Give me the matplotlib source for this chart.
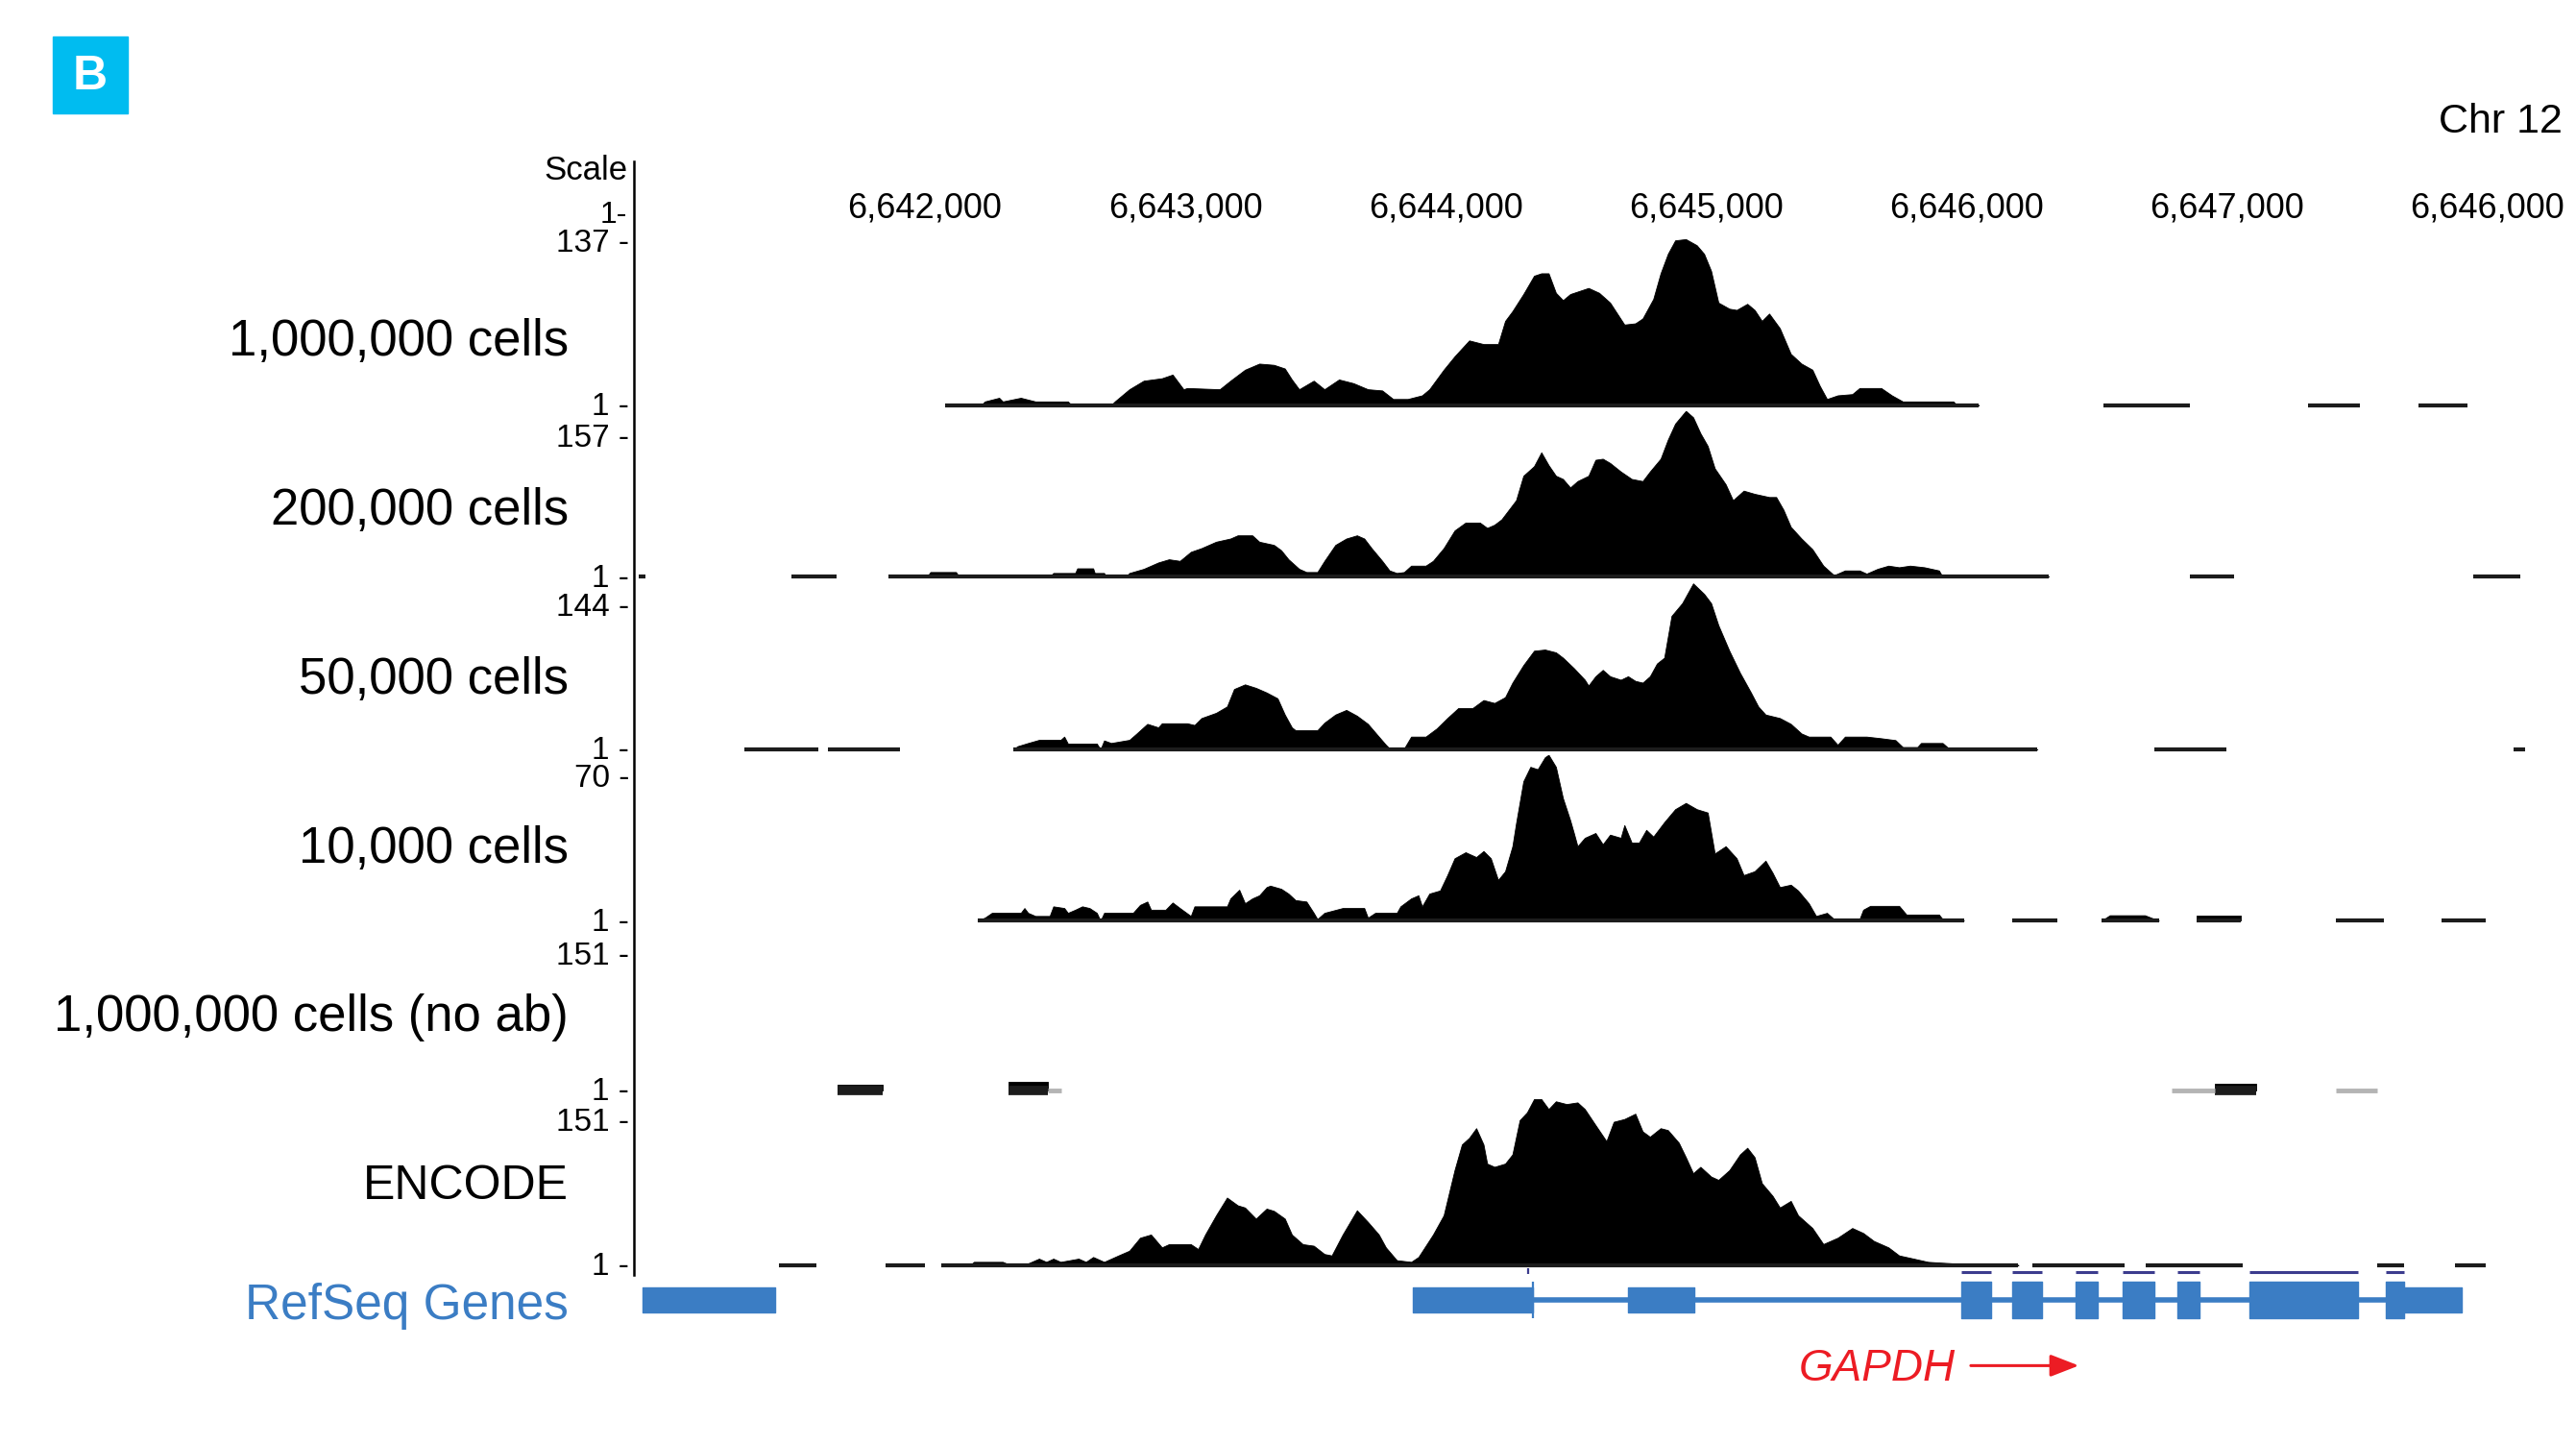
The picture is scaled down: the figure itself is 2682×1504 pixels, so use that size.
import numpy as np
import matplotlib
matplotlib.use("Agg")
import matplotlib.pyplot as plt
from matplotlib.patches import Rectangle, FancyArrowPatch
from matplotlib.lines import Line2D

plt.rcParams['font.family'] = ['Liberation Sans', 'DejaVu Sans']

GAP = np.nan

# genome axis
TICK_POS = [6642000, 6643000, 6644000, 6645000, 6646000, 6647000, 6648000]
TICK_LABELS = ["6,642,000", "6,643,000", "6,644,000", "6,645,000",
               "6,646,000", "6,647,000", "6,646,000"]
XLIM = (6640896, 6648290)

TRACK_NAMES = ["1,000,000 cells", "200,000 cells", "50,000 cells",
               "10,000 cells", "1,000,000 cells (no ab)", "ENCODE"]
TRACK_MAX = [137, 157, 144, 70, 151, 151]

# 1,000,000 cells
T1_POS = [6642077, 6642216, 6642230, 6642285, 6642299, 6642368, 6642424, 6642549, 6642563, 6642715,
          6642729, 6642785, 6642840, 6642910, 6642951, 6642993, 6643007, 6643132, 6643173, 6643229,
          6643284, 6643340, 6643382, 6643409, 6643437, 6643493, 6643534, 6643590, 6643645, 6643701,
          6643756, 6643798, 6643854, 6643909, 6643937, 6643992, 6644034, 6644090, 6644145, 6644201,
          6644228, 6644256, 6644298, 6644339, 6644367, 6644395, 6644423, 6644450, 6644478, 6644548,
          6644589, 6644631, 6644686, 6644728, 6644756, 6644797, 6644825, 6644853, 6644881, 6644922,
          6644964, 6644992, 6645019, 6645047, 6645089, 6645117, 6645158, 6645186, 6645214, 6645242,
          6645283, 6645325, 6645366, 6645408, 6645436, 6645464, 6645505, 6645561, 6645589, 6645672,
          6645713, 6645755, 6645949, 6645963, 6646047]
T1_VAL = [1, 1, 4, 7, 4, 7, 4, 4, 1, 1,
          4, 14, 21, 23, 26, 14, 15, 14, 21, 30,
          35, 34, 31, 22, 14, 21, 14, 22, 19, 14,
          13, 6, 6, 9, 14, 30, 41, 54, 51, 51,
          70, 78, 92, 107, 109, 109, 93, 87, 92, 97,
          93, 85, 67, 68, 72, 88, 109, 125, 136, 137,
          132, 125, 111, 85, 80, 79, 84, 79, 70, 76,
          64, 43, 35, 30, 17, 6, 9, 10, 15, 15,
          9, 4, 4, 1, 1]
T1_FLAT = [(6646524, 6646859), (6647313, 6647509), (6647736, 6647925)]

# 200,000 cells
T2_POS = [6641861, 6642008, 6642021, 6642119, 6642132, 6642479, 6642493, 6642577, 6642585, 6642646,
          6642652, 6642688, 6642696, 6642771, 6642785, 6642840, 6642896, 6642937, 6642979, 6643021,
          6643062, 6643118, 6643173, 6643201, 6643257, 6643284, 6643340, 6643368, 6643396, 6643437,
          6643465, 6643507, 6643534, 6643576, 6643618, 6643659, 6643687, 6643715, 6643756, 6643784,
          6643812, 6643840, 6643867, 6643923, 6643951, 6643992, 6644034, 6644076, 6644131, 6644159,
          6644187, 6644214, 6644242, 6644270, 6644298, 6644339, 6644367, 6644395, 6644423, 6644450,
          6644478, 6644506, 6644548, 6644575, 6644603, 6644631, 6644672, 6644714, 6644756, 6644784,
          6644825, 6644853, 6644881, 6644922, 6644950, 6644978, 6645006, 6645033, 6645075, 6645103,
          6645144, 6645186, 6645242, 6645269, 6645297, 6645325, 6645366, 6645408, 6645450, 6645491,
          6645533, 6645589, 6645616, 6645658, 6645700, 6645741, 6645783, 6645838, 6645894, 6645908,
          6646316]
T2_VAL = [1, 1, 5.5, 5.5, 1, 1, 4.6, 4.6, 9, 9,
          4.6, 4.6, 1, 1, 4.6, 8.5, 14.5, 17.5, 16, 24.5,
          28, 34, 37, 40, 40, 34, 31, 26, 17.5, 8.5,
          5.5, 5.5, 16, 31, 37, 40, 37, 28, 16, 7,
          4.6, 5.5, 11.5, 11.5, 16, 28, 44.6, 52, 52, 47,
          50, 55, 64, 73, 96, 105, 118, 106, 96, 93,
          85, 91, 96, 111, 112, 108, 100, 93, 91, 100,
          112, 130, 145, 157, 151, 136, 124, 103, 88, 73,
          82, 79, 76, 76, 64, 48, 37, 27, 11.5, 2.5,
          7, 7, 4, 8.5, 11.5, 10, 11.5, 10, 7, 1,
          1]
T2_FLAT = [(6640902, 6640927), (6641489, 6641659), (6646859, 6647029), (6647944, 6648127)]

# 50,000 cells
T3_POS = [6642341, 6642355, 6642396, 6642438, 6642521, 6642535, 6642549, 6642660, 6642674, 6642688,
          6642715, 6642785, 6642813, 6642854, 6642896, 6642910, 6643007, 6643035, 6643062, 6643118,
          6643160, 6643187, 6643229, 6643271, 6643312, 6643354, 6643382, 6643409, 6643423, 6643507,
          6643534, 6643576, 6643618, 6643659, 6643701, 6643743, 6643770, 6643784, 6643840, 6643867,
          6643923, 6643965, 6644006, 6644048, 6644103, 6644145, 6644187, 6644228, 6644256, 6644298,
          6644339, 6644381, 6644423, 6644450, 6644492, 6644534, 6644548, 6644575, 6644603, 6644631,
          6644672, 6644700, 6644728, 6644756, 6644784, 6644811, 6644839, 6644867, 6644908, 6644950,
          6644992, 6645019, 6645047, 6645089, 6645130, 6645172, 6645200, 6645228, 6645283, 6645325,
          6645366, 6645394, 6645477, 6645505, 6645533, 6645616, 6645672, 6645727, 6645755, 6645811,
          6645825, 6645908, 6645936, 6646272]
T3_VAL = [1, 3.7, 6.5, 9.2, 9.2, 12, 6, 6, 1, 8.7,
          6.5, 9.2, 14.7, 23, 20, 23.5, 23.5, 22, 28, 32.5,
          38, 53, 57, 54, 50, 45, 31, 20, 17.5, 17.5,
          24, 31, 35, 30, 23, 12, 5, 1.8, 1.8, 12,
          12, 19, 28, 36.6, 36.6, 43.5, 41, 46, 58.5, 73.6,
          86, 87, 84.6, 80, 71, 61, 56, 64, 69.5, 64,
          61, 64, 60, 58.5, 64, 75, 80, 116, 127, 144,
          135, 127, 108, 86, 67, 50, 38, 31, 28, 23,
          14.7, 12, 12, 5, 12, 12, 10.6, 9, 3, 3,
          6.5, 6.5, 1, 1]
T3_FLAT = [(6641306, 6641590), (6641628, 6641905), (6646720, 6646997), (6648102, 6648146)]

# 10,000 cells
T4_POS = [6642202, 6642230, 6642257, 6642368, 6642382, 6642396, 6642424, 6642479, 6642493, 6642535,
          6642549, 6642577, 6642604, 6642632, 6642660, 6642674, 6642688, 6642799, 6642826, 6642854,
          6642868, 6642924, 6642951, 6642979, 6643021, 6643035, 6643160, 6643173, 6643207, 6643229,
          6643257, 6643284, 6643312, 6643326, 6643368, 6643396, 6643423, 6643465, 6643493, 6643507,
          6643534, 6643604, 6643687, 6643701, 6643729, 6643812, 6643826, 6643867, 6643895, 6643909,
          6643937, 6643978, 6644006, 6644034, 6644076, 6644117, 6644145, 6644173, 6644201, 6644228,
          6644256, 6644270, 6644298, 6644325, 6644353, 6644381, 6644395, 6644423, 6644450, 6644478,
          6644492, 6644506, 6644534, 6644575, 6644603, 6644631, 6644672, 6644686, 6644714, 6644742,
          6644770, 6644797, 6644839, 6644881, 6644922, 6644964, 6645006, 6645033, 6645075, 6645117,
          6645144, 6645186, 6645228, 6645255, 6645283, 6645325, 6645353, 6645394, 6645422, 6645464,
          6645491, 6645589, 6645603, 6645630, 6645741, 6645769, 6645894, 6645908, 6645991,
          GAP, 6646518, 6646550, 6646685, 6646739, GAP, 6646884, 6647054]
T4_VAL = [1, 2.3, 4.3, 4.3, 6.3, 4.3, 3, 3, 7, 6.3,
          4.3, 5.6, 7, 6.3, 4.3, 1, 4.3, 4.3, 7.6, 9,
          5.6, 5.6, 8.6, 6.3, 3, 7, 7, 10.3, 13.9, 8.3,
          10.3, 11.6, 15, 15.6, 14.3, 12.3, 9.6, 9, 4.3, 1.7,
          4.3, 6.3, 6.3, 2.3, 4.3, 4.3, 7, 10.3, 11.6, 7,
          12.3, 13.6, 20, 27, 29.5, 27.5, 30, 27, 18, 21.6,
          32, 41.5, 59, 65, 64, 69, 70, 65, 52, 42.8,
          37.5, 32, 35.5, 37.5, 32.8, 36.8, 35.5, 40.8, 33.5, 33.5,
          38.8, 36, 42, 47.4, 50, 47.4, 46, 29, 32, 27,
          20, 21.6, 26, 21, 15, 16, 13.6, 8.3, 3, 4.3,
          1.7, 1.7, 5.6, 7.2, 7.2, 3.6, 3.6, 1.7, 1,
          GAP, 1, 3.3, 3.3, 1, GAP, 3.3, 3.3]
T4_FLAT = [(6646177, 6646348), (6647420, 6647603), (6647824, 6647995)]

# 1,000,000 cells, no antibody
T5_POS = [6641666, 6641836, GAP, 6642322, 6642473, GAP, 6646953, 6647111]
T5_VAL = [6, 6, GAP, 9, 9, GAP, 7, 7]
T5_FAINT = [(6642473, 6642524), (6646789, 6646953), (6647420, 6647578)]

# ENCODE
T6_POS = [6642063, 6642174, 6642188, 6642299, 6642327, 6642341, 6642396, 6642438, 6642466, 6642493,
          6642521, 6642590, 6642618, 6642646, 6642688, 6642743, 6642785, 6642826, 6642868, 6642910,
          6642937, 6643021, 6643049, 6643076, 6643118, 6643160, 6643201, 6643229, 6643271, 6643312,
          6643340, 6643382, 6643409, 6643451, 6643493, 6643534, 6643562, 6643604, 6643659, 6643701,
          6643743, 6643770, 6643812, 6643867, 6643895, 6643951, 6643992, 6644034, 6644062, 6644090,
          6644117, 6644145, 6644159, 6644187, 6644228, 6644256, 6644284, 6644312, 6644339, 6644367,
          6644395, 6644423, 6644464, 6644506, 6644534, 6644575, 6644617, 6644645, 6644686, 6644728,
          6644756, 6644784, 6644825, 6644853, 6644895, 6644922, 6644950, 6644978, 6645019, 6645047,
          6645089, 6645130, 6645158, 6645186, 6645214, 6645255, 6645283, 6645325, 6645353, 6645408,
          6645450, 6645505, 6645561, 6645603, 6645644, 6645700, 6645741, 6645797, 6645852, 6645949,
          6646005, 6646199]
T6_VAL = [1, 1, 3.9, 3.9, 1, 1, 2.5, 6.8, 3.9, 6.8,
          3.9, 6.8, 3.9, 8.3, 3.9, 9.7, 14, 25.7, 28.6, 17,
          19.9, 19.9, 15.5, 28.6, 46, 62, 55, 53, 43, 52,
          50, 43, 28.6, 19.9, 18.5, 11, 9.7, 28.6, 50.5, 40,
          28.6, 17, 5.4, 3.9, 8.3, 28.6, 46, 87, 110, 116,
          124.7, 110, 92.7, 89.8, 92.7, 101, 132, 139, 151, 151,
          142, 149, 146.5, 148, 142, 127.6, 113, 130.5, 133, 137.8,
          121.8, 117, 124.7, 123, 111.6, 98.5, 84, 89.8, 81, 78,
          86.8, 101, 107, 98.5, 75, 63.6, 53, 59, 46, 34.5,
          20, 25.7, 34.5, 30, 22.8, 17, 9.7, 6.8, 3.9, 2.5,
          1, 1]
T6_FLAT = [(6641438, 6641584), (6641849, 6642000), (6646253, 6646606),
           (6646688, 6647061), (6647578, 6647679), (6647874, 6647995)]

# RefSeq gene models
GENE_THIN = [(6640915, 6641426), (6643874, 6644335), (6644701, 6644953), (6647679, 6647900)]
GENE_THICK = [(6645981, 6646095), (6646177, 6646291), (6646417, 6646505), (6646600, 6646720),
              (6646808, 6646896), (6647086, 6647502), (6647610, 6647679)]
GENE_TSS = 6644335
GENE_END = 6647900

TRACKS = [(T1_POS, T1_VAL, T1_FLAT), (T2_POS, T2_VAL, T2_FLAT), (T3_POS, T3_VAL, T3_FLAT),
          (T4_POS, T4_VAL, T4_FLAT), (T5_POS, T5_VAL, []), (T6_POS, T6_VAL, T6_FLAT)]

# layout (reference pixel grid 1568 x 879)
W, H = 1568.0, 879.3
def fx(d):
    return d / W
def fy(d):
    return 1 - d / H

BASE_Y = [246.5, 351, 456, 560.3, 663.6, 769.8]
MAXLAB_Y = [148, 267, 370, 474, 582, 683]
NAME_Y = [208, 311, 414, 517, 619, 722]
NAME_SIZE = [38, 38, 38, 38, 38, 36]
TRACK_H = 101
BLUE = '#3b7dc4'
RED = '#ec1c24'

fig = plt.figure(figsize=(26.82, 15.04), dpi=100)


def segments(pos, val):
    out, cur = [], []
    for p, v in zip(pos, val):
        if np.isnan(p):
            out.append(cur)
            cur = []
        else:
            cur.append((p, v))
    out.append(cur)
    return [s for s in out if s]


axes = []
for i, (pos, val, flat) in enumerate(TRACKS):
    ax = fig.add_axes([fx(388), fy(BASE_Y[i]), fx(1560) - fx(388), TRACK_H / H])
    ax.set_xlim(*XLIM)
    ax.set_ylim(1, TRACK_MAX[i])
    ax.axis('off')
    base_lw = 7 if i == 4 else 3.0
    for seg in segments(pos, val):
        xs, ys = zip(*seg)
        ax.fill_between(xs, 1, ys, color='black', lw=0.6)
        ax.plot([xs[0], xs[-1]], [1, 1], color='#1c1c1c', lw=base_lw,
                solid_capstyle='butt', clip_on=False)
    for s, e in flat:
        ax.plot([s, e], [1, 1], color='#1c1c1c', lw=3.0, solid_capstyle='butt', clip_on=False)
    axes.append(ax)

for s, e in T5_FAINT:
    axes[4].plot([s, e], [1, 1], color='#b4b4b4', lw=3.5, solid_capstyle='butt', clip_on=False)

# coordinate labels above the first track
for p, lab in zip(TICK_POS, TICK_LABELS):
    axes[0].text(p, 1.185, lab, transform=axes[0].get_xaxis_transform(),
                 ha='center', va='center', fontsize=26)

# gene track
axg = fig.add_axes([fx(388), fy(812), fx(1560) - fx(388), 42 / H])
axg.set_xlim(*XLIM)
axg.set_ylim(-21, 21)
axg.axis('off')
axg.plot([GENE_TSS, GENE_END], [0, 0], color=BLUE, lw=4, solid_capstyle='butt')
axg.broken_barh([(s, e - s) for s, e in GENE_THIN], (-7.5, 15), color=BLUE)
axg.broken_barh([(s, e - s) for s, e in GENE_THICK], (-11.3, 22.6), color=BLUE)
axg.vlines(GENE_TSS, -11, 11, color=BLUE, lw=1.6)
for s, e in GENE_THICK:
    axg.plot([s, e], [17, 17], color='#3c3c8e', lw=2.2, solid_capstyle='butt')
axg.vlines(GENE_TSS - 20, 15.5, 19.5, color='#3c3c8e', lw=1.6)

# left side labels
fig.add_artist(Line2D([fx(386), fx(386)], [fy(98), fy(776)], color='black', lw=1.8))
fig.text(fx(382), fy(104), 'Scale', ha='right', va='center', fontsize=25)
fig.text(fx(382), fy(131), '1-', ha='right', va='center', fontsize=23)
for i in range(len(TRACK_NAMES)):
    fig.text(fx(383), fy(MAXLAB_Y[i]), f'{TRACK_MAX[i]} -', ha='right', va='center', fontsize=24)
    fig.text(fx(383), fy(BASE_Y[i] + 1), '1 -', ha='right', va='center', fontsize=24)
    fig.text(fx(346), fy(NAME_Y[i]), TRACK_NAMES[i], ha='right', va='center',
             fontsize=NAME_SIZE[i])
fig.text(fx(346), fy(795), 'RefSeq Genes', ha='right', va='center', fontsize=37, color=BLUE)

# gene name + direction
fig.text(fx(1095), fy(833), 'GAPDH', ha='left', va='center', fontsize=33,
         style='italic', color=RED)
fig.add_artist(FancyArrowPatch((fx(1198), fy(831)), (fx(1267), fy(831)),
                               transform=fig.transFigure, color=RED, lw=2.2,
                               arrowstyle='-|>,head_length=0.9,head_width=0.35',
                               mutation_scale=20))

# panel letter and chromosome
fig.add_artist(Rectangle((fx(32), fy(69)), fx(78) - fx(32), 47 / H,
                         transform=fig.transFigure, color='#00bcf0'))
fig.text(fx(55), fy(47), 'B', ha='center', va='center', fontsize=36,
         fontweight='bold', color='white')
fig.text(fx(1560), fy(74), 'Chr 12', ha='right', va='center', fontsize=31)

fig.savefig('out.png', dpi=100)
